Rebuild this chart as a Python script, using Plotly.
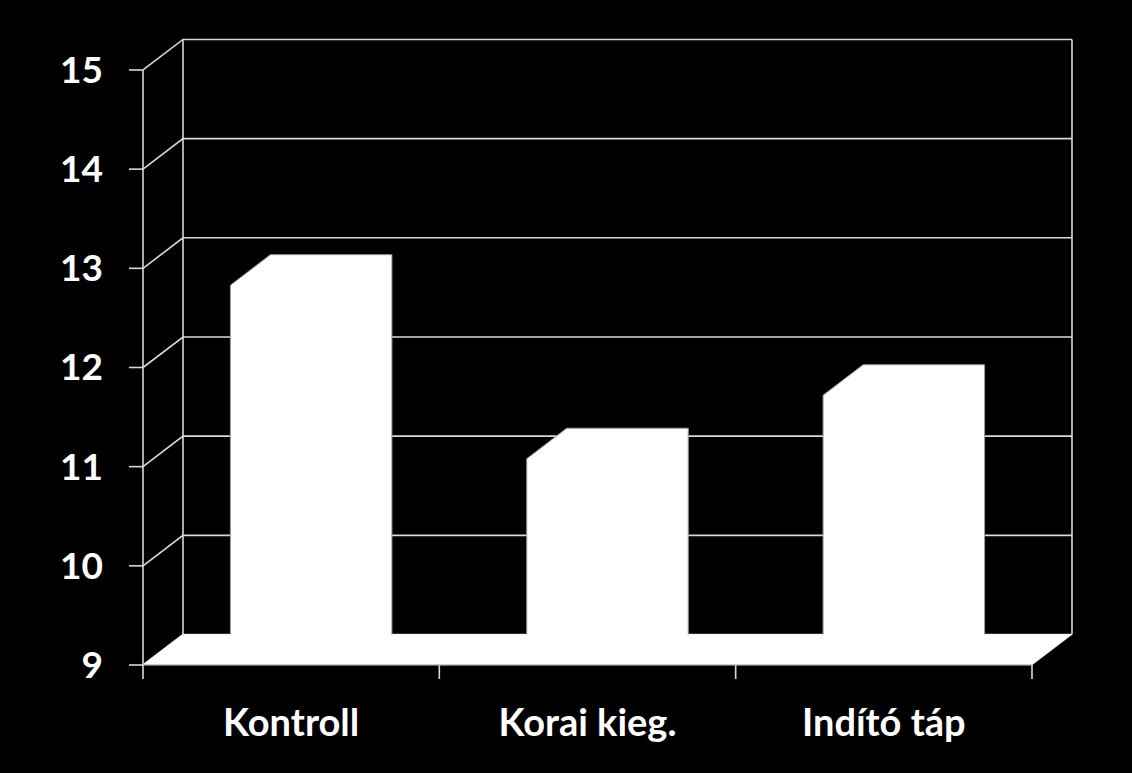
import plotly.graph_objects as go

# ---- data ----
categories = ["Kontroll", "Korai kieg.", "Indító táp"]
values = [12.83, 11.08, 11.72]
y_ticks = [9, 10, 11, 12, 13, 14, 15]
y_min, y_max = 9, 15

# ---- geometry (pixel calibration of the pseudo-3D frame) ----
W, H = 1132, 773
X0PX = 143.0           # pixel of x=0 on the front edge
UX = 296.33            # pixels per category
Y9PX = 665.0           # pixel of y=9 on the front axis
UY = 99.17             # pixels per unit
DX = 40.0 / UX         # depth offset (x)
DY = 30.5 / UY         # depth offset (y)
HALF = 0.205           # half bar width (category units)

L, R, T, B = 110, 40, 28, 88
x_range = [(L - X0PX) / UX, (W - R - X0PX) / UX]
y_range = [y_min - ((H - B) - Y9PX) / UY, y_min + (Y9PX - T) / UY]

n = len(categories)
grid_col = "#d9d9d9"
edge_col = "#9a9a9a"

fig = go.Figure()

# back wall + left wall grid lines
gx, gy = [], []
for v in y_ticks:
    gx += [0, DX, n + DX, None]
    gy += [v, v + DY, v + DY, None]
# wall vertical edges
gx += [DX, DX, None, n + DX, n + DX, None]
gy += [y_min + DY, y_max + DY, None, y_min + DY, y_max + DY, None]
fig.add_trace(go.Scatter(x=gx, y=gy, mode="lines",
                         line=dict(color=grid_col, width=1.6),
                         hoverinfo="skip", showlegend=False))

# front value axis line and tick marks
ax, ay = [0, 0, None], [y_min, y_max, None]
for v in y_ticks:
    ax += [-14 / UX, 0, None]
    ay += [v, v, None]
for i in range(n + 1):
    ax += [i, i, None]
    ay += [y_min, y_min - 14 / UY, None]
fig.add_trace(go.Scatter(x=ax, y=ay, mode="lines",
                         line=dict(color=grid_col, width=1.6),
                         hoverinfo="skip", showlegend=False))

# floor
fig.add_trace(go.Scatter(
    x=[0, DX, n + DX, n, 0],
    y=[y_min, y_min + DY, y_min + DY, y_min, y_min],
    mode="lines", fill="toself", fillcolor="white",
    line=dict(color="white", width=0.5),
    hoverinfo="skip", showlegend=False))

# bars (silhouette of the 3D column)
for i, (c, v) in enumerate(zip(categories, values)):
    x0 = i + 0.5 - HALF
    x1 = i + 0.5 + HALF
    fig.add_trace(go.Scatter(
        x=[x0, x0, x0 + DX, x1 + DX, x1 + DX, x1, x0],
        y=[y_min, v, v + DY, v + DY, y_min + DY, y_min, y_min],
        mode="lines", fill="toself", fillcolor="white",
        line=dict(color="white", width=0),
        name=c, hoverinfo="name+text", text=[str(v)] * 7,
        showlegend=False))
    fig.add_trace(go.Scatter(
        x=[x0, x0, x0 + DX, x1 + DX, x1 + DX],
        y=[y_min + DY, v, v + DY, v + DY, y_min + DY],
        mode="lines", line=dict(color=edge_col, width=1),
        hoverinfo="skip", showlegend=False))

# floor front edge
fig.add_trace(go.Scatter(
    x=[0, n], y=[y_min, y_min], mode="lines",
    line=dict(color=edge_col, width=1.2),
    hoverinfo="skip", showlegend=False))

xfont = dict(family="Lato", size=38, color="white", weight="bold")
yfont = dict(family="Lato", size=37, color="white", weight="bold")

fig.update_layout(
    width=W, height=H,
    margin=dict(l=L, r=R, t=T, b=B),
    paper_bgcolor="black", plot_bgcolor="black",
    showlegend=False,
    xaxis=dict(range=x_range, showgrid=False, zeroline=False, showline=False,
               tickmode="array", tickvals=[i + 0.5 for i in range(n)],
               ticktext=categories, ticks="", tickfont=xfont,
               ticklabelstandoff=12, fixedrange=True),
    yaxis=dict(range=y_range, showgrid=False, zeroline=False, showline=False,
               tickmode="array", tickvals=y_ticks,
               ticktext=[str(t) for t in y_ticks], ticks="", tickfont=yfont,
               ticklabelstandoff=6, fixedrange=True),
)

fig.write_html("out.html", config={"displayModeBar": False})

# remove the default page margin so the figure fills the window exactly
with open("out.html", encoding="utf-8") as f:
    html = f.read()
html = html.replace("<head>", "<head><style>html,body{margin:0;padding:0;"
                    "background:black;overflow:hidden}</style>", 1)
with open("out.html", "w", encoding="utf-8") as f:
    f.write(html)
